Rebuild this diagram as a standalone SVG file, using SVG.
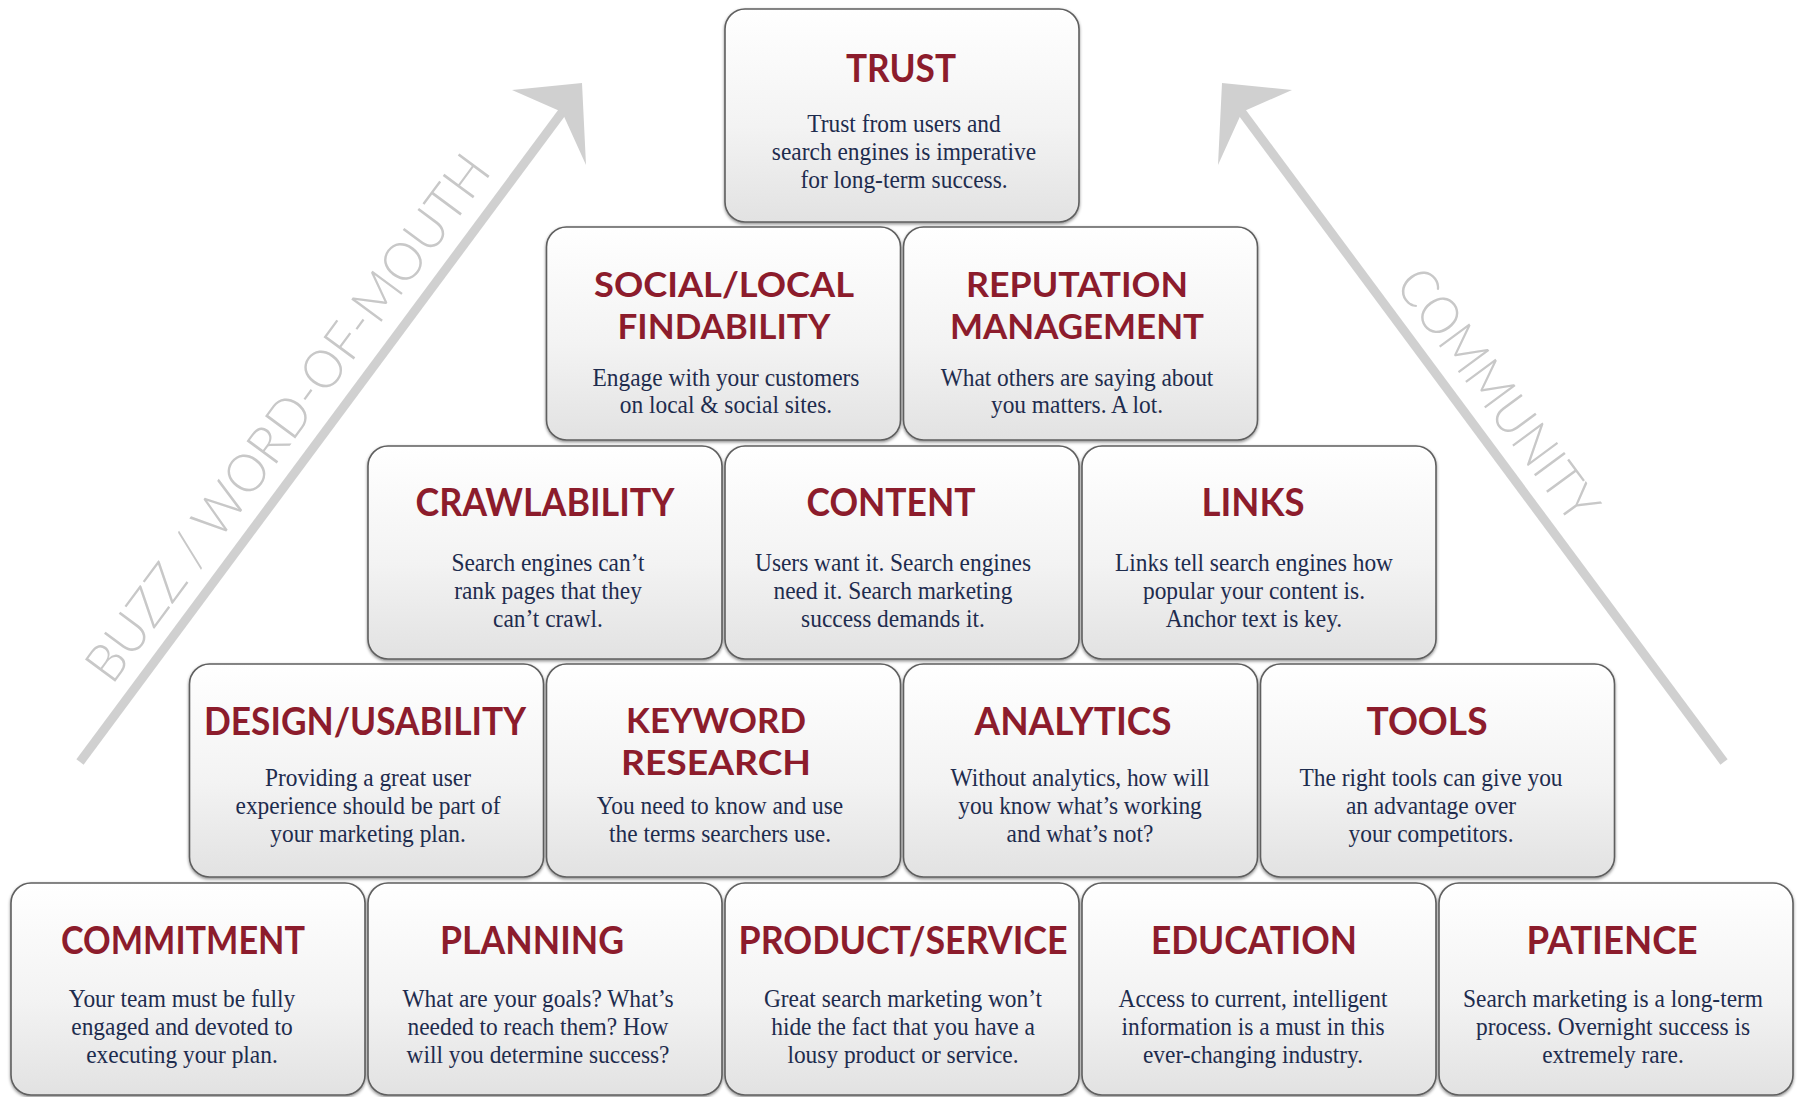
<svg xmlns="http://www.w3.org/2000/svg" width="1802" height="1097" viewBox="0 0 1802 1097">
<defs>
<linearGradient id="g" x1="0" y1="0" x2="0" y2="1">
<stop offset="0" stop-color="#ffffff"/>
<stop offset="0.55" stop-color="#f3f3f3"/>
<stop offset="1" stop-color="#e2e2e2"/>
</linearGradient>
<filter id="sh" x="-5%" y="-5%" width="110%" height="115%">
<feDropShadow dx="0" dy="1.5" stdDeviation="1.5" flood-color="#000" flood-opacity="0.45"/>
</filter>
<style>
.box{fill:url(#g);stroke:#5f5f5f;stroke-width:1.6;filter:url(#sh)}
.t{font-family:Lato,"Liberation Sans",sans-serif;font-weight:700;font-size:38px;fill:#8c1c2c;text-anchor:middle}
.t2{font-size:34px}
.b{font-family:"Liberation Serif","Times New Roman",serif;font-size:26px;fill:#1e2c4e;text-anchor:middle}
.a{font-family:Lato,"Liberation Sans",sans-serif;font-weight:300;font-size:53px;fill:#c8c8c8}
.sh{stroke:#d0d0d0;stroke-width:9;fill:none;stroke-linecap:butt}
.ah{fill:#d0d0d0}
</style>
</defs>
<rect width="1802" height="1097" fill="#ffffff"/>

<g id="connectors">
<line class="sh" x1="80" y1="762" x2="566" y2="107"/>
<polygon class="ah" points="582,83 512,90 562,112 586,165"/>
<line class="sh" x1="1724" y1="762" x2="1238" y2="107"/>
<polygon class="ah" points="1222,83 1292,90 1242,112 1218,165"/>
<text class="a" transform="translate(112,686) rotate(-53.5)" textLength="640" lengthAdjust="spacingAndGlyphs">BUZZ / WORD-OF-MOUTH</text>
<text class="a" transform="translate(1394,285) rotate(53.5)" textLength="300" lengthAdjust="spacingAndGlyphs">COMMUNITY</text>
</g>

<g id="trust">
<rect class="box" x="725" y="9" width="354" height="213" rx="20"/>
<text class="t" x="901" y="82" textLength="110" lengthAdjust="spacingAndGlyphs">TRUST</text>
<text class="b" transform="translate(904,0) scale(0.9,1)"><tspan x="0" y="132">Trust from users and</tspan><tspan x="0" y="160">search engines is imperative</tspan><tspan x="0" y="188">for long-term success.</tspan></text>
</g>

<g id="social-local">
<rect class="box" x="546.5" y="227" width="354" height="213" rx="20"/>
<text class="t t2" x="724" y="297" textLength="260" lengthAdjust="spacingAndGlyphs">SOCIAL/LOCAL</text>
<text class="t t2" x="724" y="339" textLength="213" lengthAdjust="spacingAndGlyphs">FINDABILITY</text>
<text class="b" transform="translate(726,0) scale(0.9,1)"><tspan x="0" y="386">Engage with your customers</tspan><tspan x="0" y="413">on local &amp; social sites.</tspan></text>
</g>

<g id="reputation">
<rect class="box" x="903.5" y="227" width="354" height="213" rx="20"/>
<text class="t t2" x="1077" y="297" textLength="222" lengthAdjust="spacingAndGlyphs">REPUTATION</text>
<text class="t t2" x="1077" y="339" textLength="254" lengthAdjust="spacingAndGlyphs">MANAGEMENT</text>
<text class="b" transform="translate(1077,0) scale(0.9,1)"><tspan x="0" y="386">What others are saying about</tspan><tspan x="0" y="413">you matters. A lot.</tspan></text>
</g>

<g id="crawlability">
<rect class="box" x="368" y="446" width="354" height="213" rx="20"/>
<text class="t" x="545" y="516" textLength="259" lengthAdjust="spacingAndGlyphs">CRAWLABILITY</text>
<text class="b" transform="translate(548,0) scale(0.9,1)"><tspan x="0" y="571">Search engines can’t</tspan><tspan x="0" y="599">rank pages that they</tspan><tspan x="0" y="627">can’t crawl.</tspan></text>
</g>

<g id="content">
<rect class="box" x="725" y="446" width="354" height="213" rx="20"/>
<text class="t" x="891" y="516" textLength="169" lengthAdjust="spacingAndGlyphs">CONTENT</text>
<text class="b" transform="translate(893,0) scale(0.9,1)"><tspan x="0" y="571">Users want it. Search engines</tspan><tspan x="0" y="599">need it. Search marketing</tspan><tspan x="0" y="627">success demands it.</tspan></text>
</g>

<g id="links">
<rect class="box" x="1082" y="446" width="354" height="213" rx="20"/>
<text class="t" x="1253" y="516" textLength="103" lengthAdjust="spacingAndGlyphs">LINKS</text>
<text class="b" transform="translate(1254,0) scale(0.9,1)"><tspan x="0" y="571">Links tell search engines how</tspan><tspan x="0" y="599">popular your content is.</tspan><tspan x="0" y="627">Anchor text is key.</tspan></text>
</g>

<g id="design-usability">
<rect class="box" x="189.5" y="664" width="354" height="213" rx="20"/>
<text class="t" x="365" y="735" textLength="322" lengthAdjust="spacingAndGlyphs">DESIGN/USABILITY</text>
<text class="b" transform="translate(368,0) scale(0.9,1)"><tspan x="0" y="786">Providing a great user</tspan><tspan x="0" y="814">experience should be part of</tspan><tspan x="0" y="842">your marketing plan.</tspan></text>
</g>

<g id="keyword-research">
<rect class="box" x="546.5" y="664" width="354" height="213" rx="20"/>
<text class="t t2" x="716" y="733" textLength="180" lengthAdjust="spacingAndGlyphs">KEYWORD</text>
<text class="t t2" x="716" y="775" textLength="190" lengthAdjust="spacingAndGlyphs">RESEARCH</text>
<text class="b" transform="translate(720,0) scale(0.9,1)"><tspan x="0" y="814">You need to know and use</tspan><tspan x="0" y="842">the terms searchers use.</tspan></text>
</g>

<g id="analytics">
<rect class="box" x="903.5" y="664" width="354" height="213" rx="20"/>
<text class="t" x="1073" y="735" textLength="197" lengthAdjust="spacingAndGlyphs">ANALYTICS</text>
<text class="b" transform="translate(1080,0) scale(0.9,1)"><tspan x="0" y="786">Without analytics, how will</tspan><tspan x="0" y="814">you know what’s working</tspan><tspan x="0" y="842">and what’s not?</tspan></text>
</g>

<g id="tools">
<rect class="box" x="1260.5" y="664" width="354" height="213" rx="20"/>
<text class="t" x="1427" y="735" textLength="121" lengthAdjust="spacingAndGlyphs">TOOLS</text>
<text class="b" transform="translate(1431,0) scale(0.9,1)"><tspan x="0" y="786">The right tools can give you</tspan><tspan x="0" y="814">an advantage over</tspan><tspan x="0" y="842">your competitors.</tspan></text>
</g>

<g id="commitment">
<rect class="box" x="11" y="883" width="354" height="212" rx="20"/>
<text class="t" x="183" y="954" textLength="244" lengthAdjust="spacingAndGlyphs">COMMITMENT</text>
<text class="b" transform="translate(182,0) scale(0.9,1)"><tspan x="0" y="1007">Your team must be fully</tspan><tspan x="0" y="1035">engaged and devoted to</tspan><tspan x="0" y="1063">executing your plan.</tspan></text>
</g>

<g id="planning">
<rect class="box" x="368" y="883" width="354" height="212" rx="20"/>
<text class="t" x="532" y="954" textLength="184" lengthAdjust="spacingAndGlyphs">PLANNING</text>
<text class="b" transform="translate(538,0) scale(0.9,1)"><tspan x="0" y="1007">What are your goals? What’s</tspan><tspan x="0" y="1035">needed to reach them? How</tspan><tspan x="0" y="1063">will you determine success?</tspan></text>
</g>

<g id="product-service">
<rect class="box" x="725" y="883" width="354" height="212" rx="20"/>
<text class="t" x="903" y="954" textLength="329" lengthAdjust="spacingAndGlyphs">PRODUCT/SERVICE</text>
<text class="b" transform="translate(903,0) scale(0.9,1)"><tspan x="0" y="1007">Great search marketing won’t</tspan><tspan x="0" y="1035">hide the fact that you have a</tspan><tspan x="0" y="1063">lousy product or service.</tspan></text>
</g>

<g id="education">
<rect class="box" x="1082" y="883" width="354" height="212" rx="20"/>
<text class="t" x="1254" y="954" textLength="206" lengthAdjust="spacingAndGlyphs">EDUCATION</text>
<text class="b" transform="translate(1253,0) scale(0.9,1)"><tspan x="0" y="1007">Access to current, intelligent</tspan><tspan x="0" y="1035">information is a must in this</tspan><tspan x="0" y="1063">ever-changing industry.</tspan></text>
</g>

<g id="patience">
<rect class="box" x="1439" y="883" width="354" height="212" rx="20"/>
<text class="t" x="1612" y="954" textLength="171" lengthAdjust="spacingAndGlyphs">PATIENCE</text>
<text class="b" transform="translate(1613,0) scale(0.9,1)"><tspan x="0" y="1007">Search marketing is a long-term</tspan><tspan x="0" y="1035">process. Overnight success is</tspan><tspan x="0" y="1063">extremely rare.</tspan></text>
</g>
</svg>
